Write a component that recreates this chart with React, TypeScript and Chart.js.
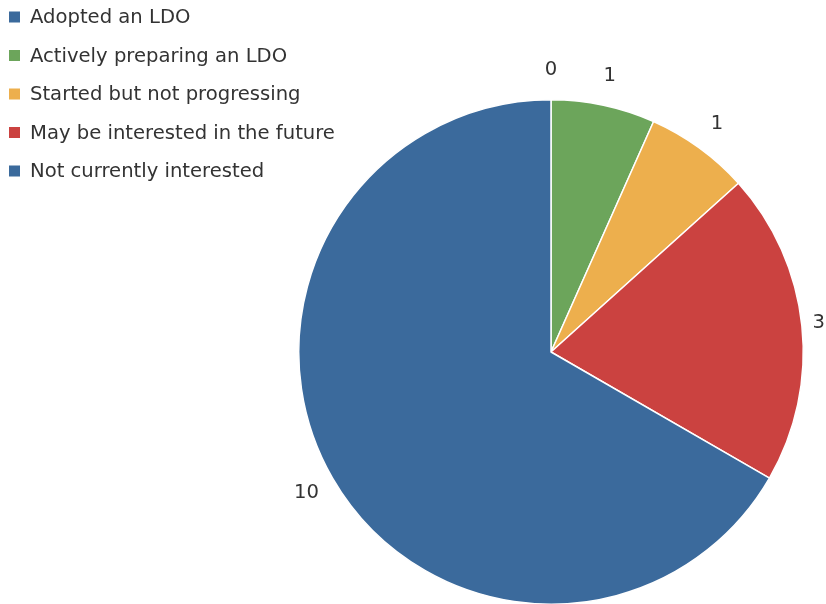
import React, { useEffect, useRef } from "react";
import { Chart, registerables } from "chart.js";

Chart.register(...registerables);

const categories = [
  "Adopted an LDO",
  "Actively preparing an LDO",
  "Started but not progressing",
  "May be interested in the future",
  "Not currently interested",
];
const values = [0, 1, 1, 3, 10];
const colors = ["#3B6A9C", "#6CA55B", "#EDAF4D", "#CB4240", "#3B6A9C"];

const FONT = '"DejaVu Sans", sans-serif';

const legendPlugin = {
  id: "customLegend",
  afterDraw(chart: any) {
    const ctx = chart.ctx;
    const labels = chart.data.labels as string[];
    const bg = chart.data.datasets[0].backgroundColor as string[];
    ctx.save();
    ctx.font = `19.6px ${FONT}`;
    ctx.textBaseline = "middle";
    ctx.textAlign = "left";
    labels.forEach((l, i) => {
      const y = 17 + i * 38.5;
      ctx.fillStyle = bg[i];
      ctx.fillRect(9, y - 5.5, 11, 11);
      ctx.fillStyle = "#333333";
      ctx.fillText(l, 30, y + 1);
    });
    ctx.restore();
  },
};

const labelPlugin = {
  id: "outerLabels",
  afterDatasetsDraw(chart: any) {
    const ctx = chart.ctx;
    const meta = chart.getDatasetMeta(0);
    const data = chart.data.datasets[0].data as number[];
    ctx.save();
    ctx.font = `19.6px ${FONT}`;
    ctx.fillStyle = "#333333";
    ctx.textBaseline = "middle";
    ctx.textAlign = "center";
    meta.data.forEach((arc: any, i: number) => {
      const { x, y, startAngle, endAngle, outerRadius } = arc.getProps(
        ["x", "y", "startAngle", "endAngle", "outerRadius"],
        true
      );
      const mid = (startAngle + endAngle) / 2;
      const r = outerRadius + 30;
      const text = String(data[i]);
      const w = ctx.measureText(text).width;
      let cx = x + Math.cos(mid) * r;
      const cy = y + Math.sin(mid) * r;
      cx = Math.min(cx, chart.width - w / 2 - 1);
      cx = Math.max(cx, w / 2 + 1);
      ctx.fillText(text, cx, cy);
    });
    ctx.restore();
  },
};

export default function App() {
  const ref = useRef<HTMLCanvasElement | null>(null);
  useEffect(() => {
    if (!ref.current) return;
    const chart = new Chart(ref.current, {
      type: "pie",
      data: {
        labels: categories,
        datasets: [
          {
            data: values,
            backgroundColor: colors,
            borderColor: "#ffffff",
            borderWidth: 1.5,
          },
        ],
      },
      options: {
        responsive: false,
        animation: false,
        layout: { padding: { left: 298, right: 22, top: 99, bottom: 1 } },
        plugins: {
          legend: { display: false },
          tooltip: { enabled: false },
        },
      },
      plugins: [legendPlugin, labelPlugin],
    });
    return () => chart.destroy();
  }, []);
  return (
    <div
      style={{
        position: "fixed",
        left: 0,
        top: 0,
        width: 826,
        height: 604,
        overflow: "hidden",
        background: "#fff",
      }}
    >
      <canvas ref={ref} width={826} height={606} style={{ display: "block" }} />
    </div>
  );
}
